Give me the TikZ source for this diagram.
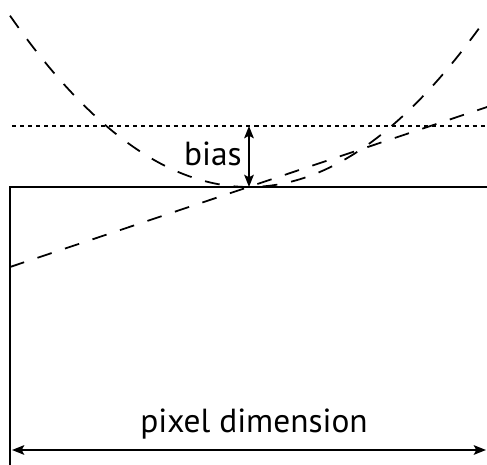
\documentclass[tikz,border=0pt]{standalone}
\usepackage{fontspec}
\setmainfont{PT Sans}
\usetikzlibrary{arrows.meta}

\tikzset{
    curve/.style={line width=1pt, dash pattern=on 8.5pt off 8pt},
    guide/.style={line width=0.9pt, dash pattern=on 2.3pt off 2.3pt},
    measure/.style={line width=1pt, {Stealth[length=7pt,width=5.5pt,inset=1.5pt]}-{Stealth[length=7pt,width=5.5pt,inset=1.5pt]}},
    label/.style={font=\fontsize{19}{22}\selectfont, inner sep=0pt}
}

\begin{document}
\begin{tikzpicture}[x=0.02cm, y=-0.02cm]

        \useasboundingbox (0,0) rectangle (487,464);

        % points
        \coordinate (boxtop) at (10,187);
        \coordinate (boxbottom) at (10,470);
        \coordinate (boxright) at (495,187);
        \coordinate (touch) at (249,187);
        \coordinate (biastop) at (249,126);
        \coordinate (dotleft) at (12,126);
        \coordinate (dotright) at (487,126);
        \coordinate (lineleft) at (10,267);
        \coordinate (lineright) at (487,107);
        \coordinate (dimleft) at (12,450);
        \coordinate (dimright) at (486,450);

        % image border
        \draw[line width=1pt] (boxbottom) -- (boxtop) -- (boxright);

        % bias level
        \draw[guide] (dotleft) -- (dotright);

        % parabola
        \draw[curve] plot[domain=10:482, samples=120] (\x, {187-(0.05477*(\x-249))^2});

        % straight line
        \draw[curve] (lineleft) -- (lineright);

        % bias
        \draw[measure] (touch) -- (biastop);
        \node[label] (bias) at (213,154) {bias};

        % pixel dimension
        \draw[measure] (dimleft) -- (dimright);
        \node[label] (dimension) at (254,424) {pixel dimension};

    \end{tikzpicture}
\end{document}
